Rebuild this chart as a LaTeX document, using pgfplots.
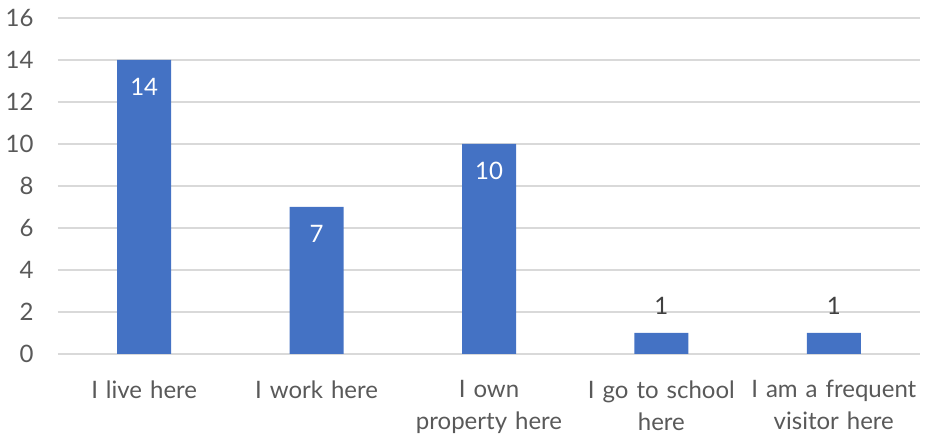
\documentclass[border=0pt]{standalone}
\usepackage{fontspec}
\setmainfont{Lato}
\usepackage{pgfplots}
\pgfplotsset{compat=1.18}
\definecolor{barblue}{HTML}{4472C4}
\definecolor{gridgray}{HTML}{D9D9D9}
\definecolor{labgray}{HTML}{595959}
\definecolor{darklab}{HTML}{404040}
\newcommand{\lblfont}{\fontsize{24}{32}\selectfont}
\begin{document}
\begin{tikzpicture}
\begin{axis}[
    scale only axis,
    width=862pt, height=336pt,
    xmin=-0.5, xmax=4.5,
    ymin=0, ymax=16,
    ytick={0,2,...,16},
    xtick={0,1,2,3,4},
    xticklabels={I live here, I work here, I own\\property here, I go to school\\here, I am a frequent\\visitor here},
    x tick label style={align=center, text width=175pt, font=\lblfont, text=labgray, yshift=-23pt},
    y tick label style={font=\lblfont, text=labgray, anchor=east, xshift=-21pt},
    /pgf/number format/assume math mode=true,
    ymajorgrids,
    grid style={gridgray, line width=1.3pt},
    axis line style={draw=none},
    axis x line*=bottom,
    x axis line style={gridgray, line width=1.3pt},
    major tick length=0pt,
    tick style={draw=none},
    ybar, bar width=54pt,
    clip=false,
]
\addplot[fill=barblue, draw=none, bar shift=0pt,
    nodes near coords,
    every node near coord/.append style={anchor=center, yshift=-27pt, text=white, font=\lblfont},
    /pgf/number format/assume math mode=true]
    coordinates {(0,14) (1,7) (2,10)};
\addplot[fill=barblue, draw=none, bar shift=0pt,
    nodes near coords,
    every node near coord/.append style={anchor=center, yshift=27pt, text=darklab, font=\lblfont},
    /pgf/number format/assume math mode=true]
    coordinates {(3,1) (4,1)};
\end{axis}
\pgfresetboundingbox
\useasboundingbox (-58pt,-84pt) rectangle (867pt,354pt);
\end{tikzpicture}
\end{document}
